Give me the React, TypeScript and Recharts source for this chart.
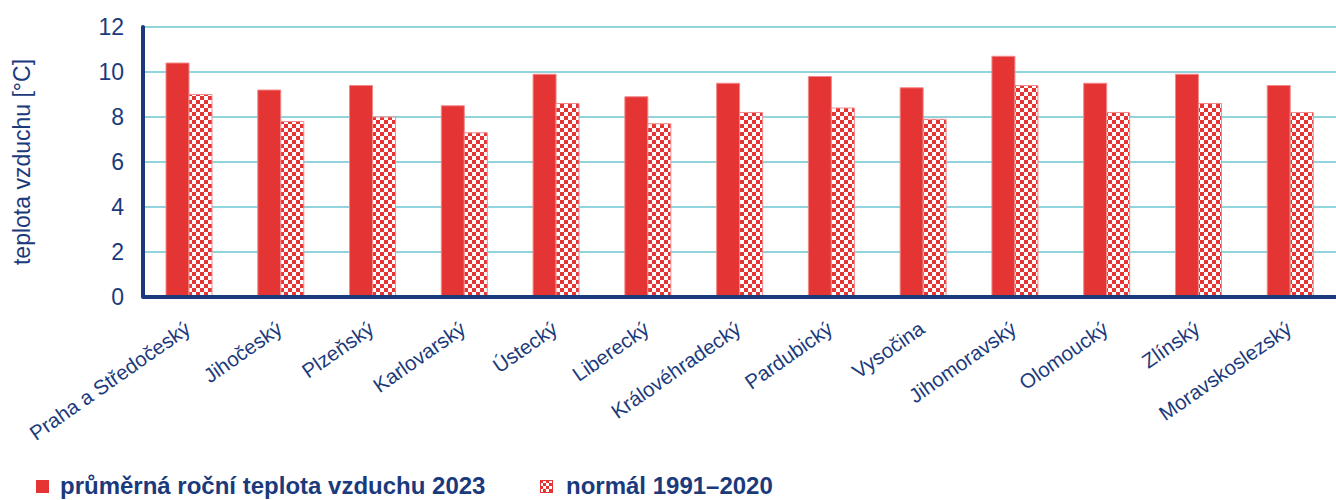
import { BarChart, Bar, XAxis, YAxis, CartesianGrid, Legend, Label } from 'recharts'

const KRAJE = [
  'Praha a Středočeský', 'Jihočeský', 'Plzeňský', 'Karlovarský', 'Ústecký', 'Liberecký',
  'Královéhradecký', 'Pardubický', 'Vysočina', 'Jihomoravský', 'Olomoucký', 'Zlínský', 'Moravskoslezský',
]
const PRUMER_2023 = [10.4, 9.2, 9.4, 8.5, 9.9, 8.9, 9.5, 9.8, 9.3, 10.7, 9.5, 9.9, 9.4]
const NORMAL_1991_2020 = [9.0, 7.8, 8.0, 7.3, 8.6, 7.7, 8.2, 8.4, 7.9, 9.4, 8.2, 8.6, 8.2]
const Y_TICKS = [0, 2, 4, 6, 8, 10, 12]

const NAZEV_2023 = 'průměrná roční teplota vzduchu 2023'
const NAZEV_NORMAL = 'normál 1991–2020'

const RED = '#e53434'
const EDGE = '#f28a8a'
const NAVY = '#1b3a7c'
const GRID = '#6cc6d2'
const FONT = '"Liberation Sans", Arial, sans-serif'

const data = KRAJE.map((kraj, i) => ({
  kraj,
  rok2023: PRUMER_2023[i],
  normal: NORMAL_1991_2020[i],
}))

function KrajTick({ x, y, payload }: any) {
  return (
    <g transform={`translate(${x + 3},${y + 27})`}>
      <text x={0} y={0} textAnchor="end" transform="rotate(-35)" fill={NAVY}
        fontSize={20.5} fontFamily={FONT}>
        {payload.value}
      </text>
    </g>
  )
}

function Checker({ size }: { size: number }) {
  return (
    <svg width={size} height={size} style={{ display: 'block' }}>
      <defs>
        <pattern id="checkerLegend" width="6" height="6" patternUnits="userSpaceOnUse">
          <rect width="6" height="6" fill="#fff" />
          <rect width="3" height="3" fill={RED} />
          <rect x="3" y="3" width="3" height="3" fill={RED} />
        </pattern>
      </defs>
      <rect width={size} height={size} fill="url(#checkerLegend)" />
      <rect x={0.5} y={0.5} width={size - 1} height={size - 1} fill="none" stroke={RED} />
    </svg>
  )
}

function LegendBox() {
  return (
    <div style={{ position: 'relative', height: 36, fontFamily: FONT, fontWeight: 'bold',
      fontSize: 24, color: NAVY }}>
      <div style={{ position: 'absolute', left: 36, top: 8, display: 'flex', alignItems: 'center' }}>
        <div style={{ width: 13, height: 13, background: RED, marginRight: 11 }} />
        <span>{NAZEV_2023}</span>
      </div>
      <div style={{ position: 'absolute', left: 540, top: 8, display: 'flex', alignItems: 'center' }}>
        <div style={{ marginRight: 13 }}><Checker size={13} /></div>
        <span>{NAZEV_NORMAL}</span>
      </div>
    </div>
  )
}

export default function App() {
  return (
    <div style={{ position: 'absolute', left: 0, top: 0, width: 1336, height: 500, background: '#fff' }}>
      <BarChart width={1336} height={500} data={data} barGap={0} barSize={23}
        margin={{ top: 27, right: 0, left: 0, bottom: 0 }}>
        <defs>
          <pattern id="checker" width="8" height="8" patternUnits="userSpaceOnUse">
            <rect width="8" height="8" fill="#fff" />
            <rect width="4" height="4" fill={RED} />
            <rect x="4" y="4" width="4" height="4" fill={RED} />
          </pattern>
        </defs>
        <CartesianGrid vertical={false} stroke={GRID} strokeWidth={1.5} />
        <XAxis dataKey="kraj" interval={0} height={167} tickLine={false}
          axisLine={{ stroke: NAVY, strokeWidth: 4 }} tick={<KrajTick />} />
        <YAxis width={143} domain={[0, 12]} ticks={Y_TICKS} tickLine={false} tickSize={0} tickMargin={19}
          axisLine={{ stroke: NAVY, strokeWidth: 4, strokeLinecap: 'round' }}
          tick={{ fill: NAVY, fontSize: 23, fontFamily: FONT }}>
          <Label value="teplota vzduchu [°C]" angle={-90} position="insideLeft" offset={22}
            style={{ textAnchor: 'middle', fill: NAVY, fontSize: 23, fontFamily: FONT }} />
        </YAxis>
        <Legend verticalAlign="bottom" height={36} content={() => <LegendBox />}
          wrapperStyle={{ left: 0, width: 1336 }} />
        <Bar dataKey="rok2023" name={NAZEV_2023} fill={RED} stroke={EDGE} strokeWidth={1}
          isAnimationActive={false} />
        <Bar dataKey="normal" name={NAZEV_NORMAL} fill="url(#checker)" stroke={EDGE} strokeWidth={1}
          isAnimationActive={false} />
      </BarChart>
    </div>
  )
}
